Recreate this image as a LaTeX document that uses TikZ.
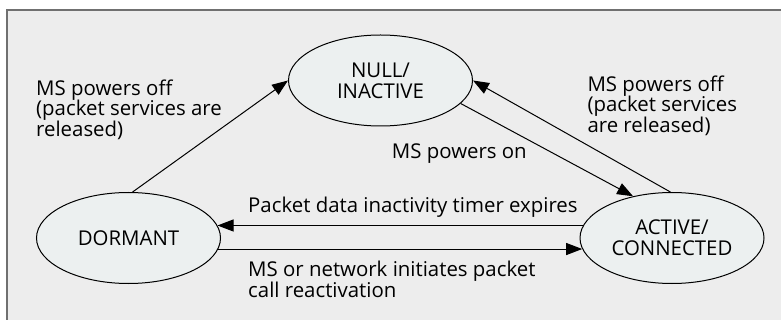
\documentclass[tikz,border=0pt]{standalone}
\usepackage{fontspec}
\setmainfont{Open Sans}
\usetikzlibrary{shapes.geometric,arrows.meta}
\definecolor{panelgray}{RGB}{237,237,237}
\definecolor{framegray}{RGB}{112,112,112}
\definecolor{statefill}{RGB}{236,240,240}
\begin{document}
\begin{tikzpicture}[x=1pt,y=-1pt,
  font=\fontsize{20.4}{20.7}\selectfont,
  state/.style={ellipse,draw,line width=1pt,fill=statefill,
    minimum width=184pt,minimum height=91pt,inner sep=0pt,align=center},
  lbl/.style={anchor=base west,inner sep=0pt,align=left},
  trans/.style={line width=1pt,-{Triangle[length=16pt,width=12pt]}}]
  \useasboundingbox (0,0) rectangle (781,320);
  % background and panel frame
  \fill[white] (0,0) rectangle (781,320);
  \fill[panelgray] (7,10) rectangle (781,320);
  \draw[framegray,line width=1.5pt] (7,320) -- (7,10) -- (781,10);

  % states
  \node[state] (null)    at (380.5,80.5) {NULL/\\INACTIVE};
  \node[state] (dormant) at (128.5,238)  {DORMANT};
  \node[state] (active)  at (672,238)    {ACTIVE/\\CONNECTED};

  % transitions
  \draw[trans] (dormant.85) -- (null.west);
  \draw[trans] (null.-16) -- (active.133);
  \draw[trans] (active.92) -- (null.east);
  \draw[trans] (active.172) -- (dormant.8);
  \draw[trans] (dormant.-7) -- (active.187);

  % transition labels (base anchor sits on the last line)
  \node[lbl] (offL)  at (36,136.5)   {MS powers off\\(packet services are\\released)};
  \node[lbl] (offR)  at (587.3,132.7) {MS powers off\\(packet services\\are released)};
  \node[lbl] (on)    at (391.7,158.3) {MS powers on};
  \node[lbl] (timer) at (248,212.7)  {Packet data inactivity timer expires};
  \node[lbl] (react) at (248,297)    {MS or network initiates packet\\call reactivation};
\end{tikzpicture}
\end{document}
